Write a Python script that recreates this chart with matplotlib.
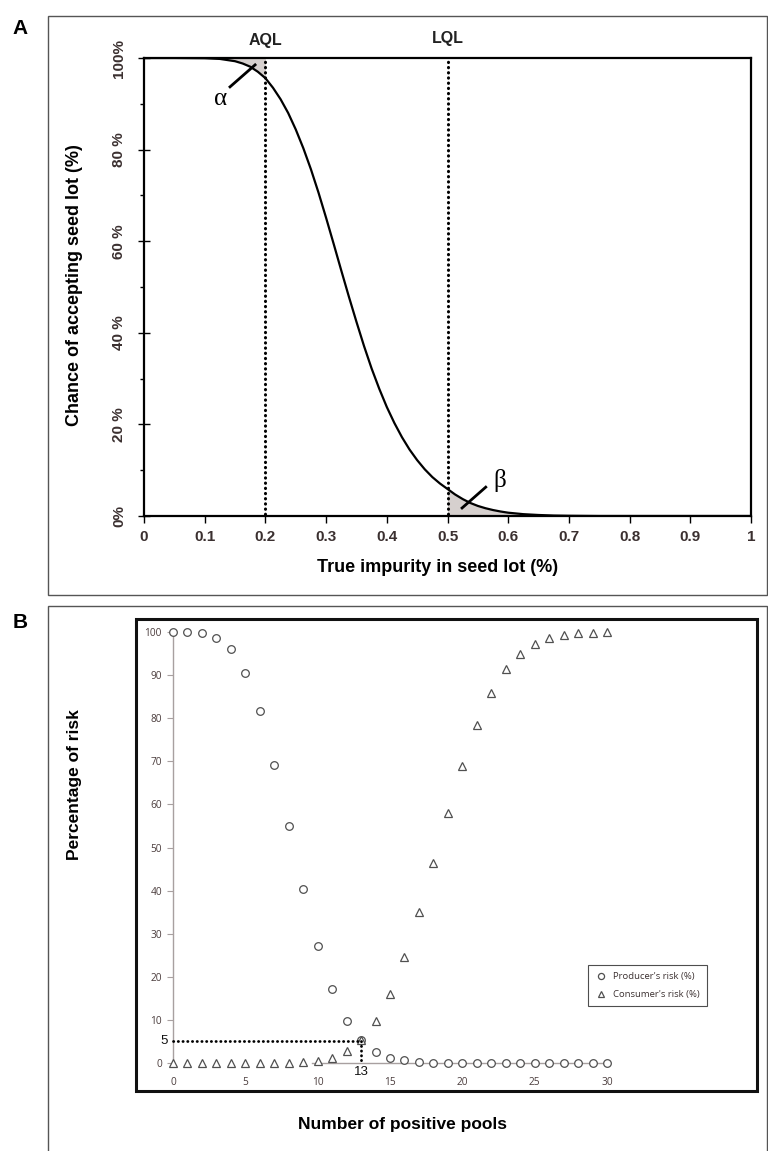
import matplotlib
matplotlib.use("Agg")
import matplotlib.pyplot as plt
from matplotlib.patches import Rectangle
import numpy as np

# ---------------- data ----------------
# Panel A: operating characteristic curve
impurity = [0, 0.05, 0.1, 0.125, 0.15, 0.1625, 0.175, 0.1875, 0.2, 0.2125, 0.225,
            0.2375, 0.25, 0.2625, 0.275, 0.2875, 0.3, 0.3125, 0.325, 0.3375, 0.35,
            0.3625, 0.375, 0.3875, 0.4, 0.4125, 0.425, 0.4375, 0.45, 0.4625,
            0.475, 0.4875, 0.5, 0.5125, 0.525, 0.5375, 0.55, 0.5625, 0.575, 0.5875,
            0.6, 0.625, 0.65, 0.675, 0.7, 0.75, 1.0]
accept_pct = [100, 100, 99.95, 99.8, 99.3, 98.8, 98.1, 97.0, 95.6, 93.5, 91.0,
              88.0, 84.4, 80.3, 75.7, 70.6, 65.1, 59.4, 53.6, 47.9, 42.4,
              37.1, 32.2, 27.8, 23.8, 20.3, 17.2, 14.5, 12.2, 10.2,
              8.5, 7.1, 5.9, 4.7, 3.7, 2.85, 2.2, 1.7, 1.3, 0.98,
              0.72, 0.4, 0.22, 0.1, 0.05, 0, 0]
aql = 0.2
lql = 0.5
xticks_A = [0, 0.1, 0.2, 0.3, 0.4, 0.5, 0.6, 0.7, 0.8, 0.9, 1]
xticklabels_A = ["0", "0.1", "0.2", "0.3", "0.4", "0.5", "0.6", "0.7", "0.8", "0.9", "1"]
yticks_A = [0, 20, 40, 60, 80, 100]
yticklabels_A = ["0%", "20 %", "40 %", "60 %", "80 %", "100%"]

# Panel B: risks vs number of positive pools
pools = list(range(31))
producer_risk = [100, 100, 99.8, 98.7, 96.1, 90.5, 81.6, 69.2, 54.9, 40.4, 27.2,
                 17.1, 9.8, 5.3, 2.6, 1.2, 0.7, 0.3, 0.1, 0, 0, 0, 0, 0, 0, 0,
                 0, 0, 0, 0, 0]
consumer_risk = [0, 0, 0, 0, 0, 0, 0, 0, 0, 0.2, 0.5, 1.1, 2.8, 5.3, 9.7, 16.1,
                 24.7, 35.0, 46.3, 58.1, 68.9, 78.5, 85.8, 91.4, 95.0, 97.1,
                 98.6, 99.2, 99.7, 99.8, 99.9]
cutoff_pools = 13
cutoff_risk = 5

# ---------------- figure ----------------
W, H = 768, 1151
fig = plt.figure(figsize=(W / 100, H / 100), dpi=100)


def fx(px):
    return px / W


def fy(py):
    return 1 - py / H


sans = "Liberation Sans"
dotted = (0, (0.1, 1.6))

# outer panel boxes
fig.add_artist(Rectangle((fx(48), fy(595)), fx(767) - fx(48), fy(16) - fy(595),
                         transform=fig.transFigure, fill=False, ec="#555555", lw=1.0))
fig.add_artist(Rectangle((fx(48), fy(1160)), fx(767) - fx(48), fy(606) - fy(1160),
                         transform=fig.transFigure, fill=False, ec="#555555", lw=1.0))

fig.text(fx(20), fy(28), "A", fontsize=15, fontweight="bold", family=sans,
         ha="center", va="center")
fig.text(fx(20), fy(622), "B", fontsize=15, fontweight="bold", family=sans,
         ha="center", va="center")

# ---------------- Panel A ----------------
axA = fig.add_axes([fx(144), fy(516), fx(751) - fx(144), fy(58) - fy(516)])
x = np.array(impurity)
y = np.array(accept_pct)
shade = "#d6d0ce"
axA.fill_between(x, y, 100, where=(x >= 0.1) & (x <= aql), color=shade, lw=0)
axA.fill_between(x, 0, y, where=(x >= lql) & (x <= 0.7), color=shade, lw=0)
axA.plot(x, y, color="black", lw=1.6, solid_capstyle="round",
         solid_joinstyle="round", zorder=3)
for v in (aql, lql):
    axA.plot([v, v], [0.5, 100], color="black", lw=2.2, linestyle=dotted,
             dash_capstyle="round", zorder=4)

axA.set_xlim(0, 1)
axA.set_ylim(0, 100)
for s in axA.spines.values():
    s.set_linewidth(1.6)
    s.set_color("black")
axA.set_xticks(xticks_A)
axA.set_xticklabels(xticklabels_A)
axA.set_yticks(yticks_A)
axA.set_yticklabels(yticklabels_A, rotation=90, va="center")
axA.set_yticks([10, 30, 50, 70, 90], minor=True)
axA.tick_params(axis="x", direction="out", length=5, width=1.0, pad=5,
                labelsize=11, labelcolor="#3b3030")
axA.tick_params(axis="y", which="major", direction="inout", length=8, width=1.0,
                pad=9, labelsize=11, labelcolor="#3b3030")
axA.tick_params(axis="y", which="minor", direction="out", length=3, width=1.0)
for lab in axA.get_xticklabels() + axA.get_yticklabels():
    lab.set_fontweight("bold")
    lab.set_family(sans)

xform = axA.get_xaxis_transform()
axA.text(aql, 1.039, "AQL", transform=xform, ha="center", va="center",
         fontsize=11.5, fontweight="bold", family=sans, color="#222222")
axA.text(lql, 1.043, "LQL", transform=xform, ha="center", va="center",
         fontsize=11.5, fontweight="bold", family=sans, color="#222222")

# alpha / beta markers
axA.plot([0.1417, 0.183], [93.7, 98.5], color="black", lw=2.0, zorder=5)
axA.text(0.126, 91.0, "α", fontsize=18, family="Liberation Serif",
         ha="center", va="center")
axA.plot([0.524, 0.563], [1.75, 6.3], color="black", lw=2.0, zorder=5)
axA.text(0.586, 7.8, "β", fontsize=18, family="Liberation Serif",
         ha="center", va="center")

fig.text(fx(75), fy(285), "Chance of accepting seed lot (%)", rotation=90,
         fontsize=13, fontweight="bold", family=sans, ha="center", va="center")
fig.text(fx(438), fy(568), "True impurity in seed lot (%)",
         fontsize=13, fontweight="bold", family=sans, ha="center", va="center")

# ---------------- Panel B ----------------
fig.add_artist(Rectangle((fx(136), fy(1091)), fx(757) - fx(136), fy(619) - fy(1091),
                         transform=fig.transFigure, fill=False, ec="#111111", lw=2.2))

axB = fig.add_axes([fx(173), fy(1063), fx(607) - fx(173), fy(632) - fy(1063)])
axB.set_xlim(0, 30)
axB.set_ylim(0, 100)
axB.patch.set_alpha(0)
for k in ("top", "right", "bottom"):
    axB.spines[k].set_visible(False)
axB.spines["left"].set_color("#a8a0a0")
axB.spines["left"].set_linewidth(1.0)
# x axis line (visible part)
axB.plot([9.6, 30], [0, 0], color="#a8a0a0", lw=1.0, zorder=1, clip_on=False)

mk_col = "#505050"
axB.plot(pools, producer_risk, linestyle="none", marker="o", markersize=5.5,
         markerfacecolor="white", markeredgecolor=mk_col, markeredgewidth=0.9,
         clip_on=False, zorder=3, label="Producer's risk (%)")
axB.plot(pools, consumer_risk, linestyle="none", marker="^", markersize=5.5,
         markerfacecolor="white", markeredgecolor=mk_col, markeredgewidth=0.9,
         clip_on=False, zorder=3, label="Consumer's risk (%)")

axB.plot([0, cutoff_pools], [cutoff_risk, cutoff_risk], color="black", lw=2.0,
         linestyle=dotted, dash_capstyle="round", zorder=4, clip_on=False)
axB.plot([cutoff_pools, cutoff_pools], [cutoff_risk, 0], color="black", lw=2.0,
         linestyle=dotted, dash_capstyle="round", zorder=4, clip_on=False)
axB.text(-0.35, cutoff_risk, str(cutoff_risk), ha="right", va="center",
         fontsize=9.5, family=sans, color="#111111")
axB.text(cutoff_pools, -2.1, str(cutoff_pools), ha="center", va="center",
         fontsize=9.5, family=sans, color="#111111")

axB.set_xticks(range(0, 31, 5))
axB.set_yticks(range(0, 101, 10))
axB.tick_params(axis="y", direction="out", length=4, width=0.8, color="#a8a0a0",
                pad=4, labelsize=7.3, labelcolor="#4a3c3c")
axB.tick_params(axis="x", direction="out", length=0, pad=10, labelsize=7.3,
                labelcolor="#4a3c3c")
for lab in axB.get_xticklabels() + axB.get_yticklabels():
    lab.set_family("Open Sans")

leg = fig.legend(handles=axB.get_lines()[1:3], loc="center",
                 bbox_to_anchor=(fx(647.5), fy(985.5)), frameon=True,
                 fancybox=False, prop={"family": "Open Sans", "size": 6.8},
                 handlelength=1.3, handletextpad=0.6, borderpad=0.75,
                 labelspacing=0.95, markerscale=0.8)
leg.get_frame().set_edgecolor("#222222")
leg.get_frame().set_linewidth(0.8)
for t in leg.get_texts():
    t.set_color("#3b3030")

fig.text(fx(75), fy(785), "Percentage of risk", rotation=90,
         fontsize=12.5, fontweight="bold", family=sans, ha="center", va="center")
fig.text(fx(403), fy(1125), "Number of positive pools",
         fontsize=12.5, fontweight="bold", family=sans, ha="center", va="center")

fig.savefig("out.png", dpi=100)
